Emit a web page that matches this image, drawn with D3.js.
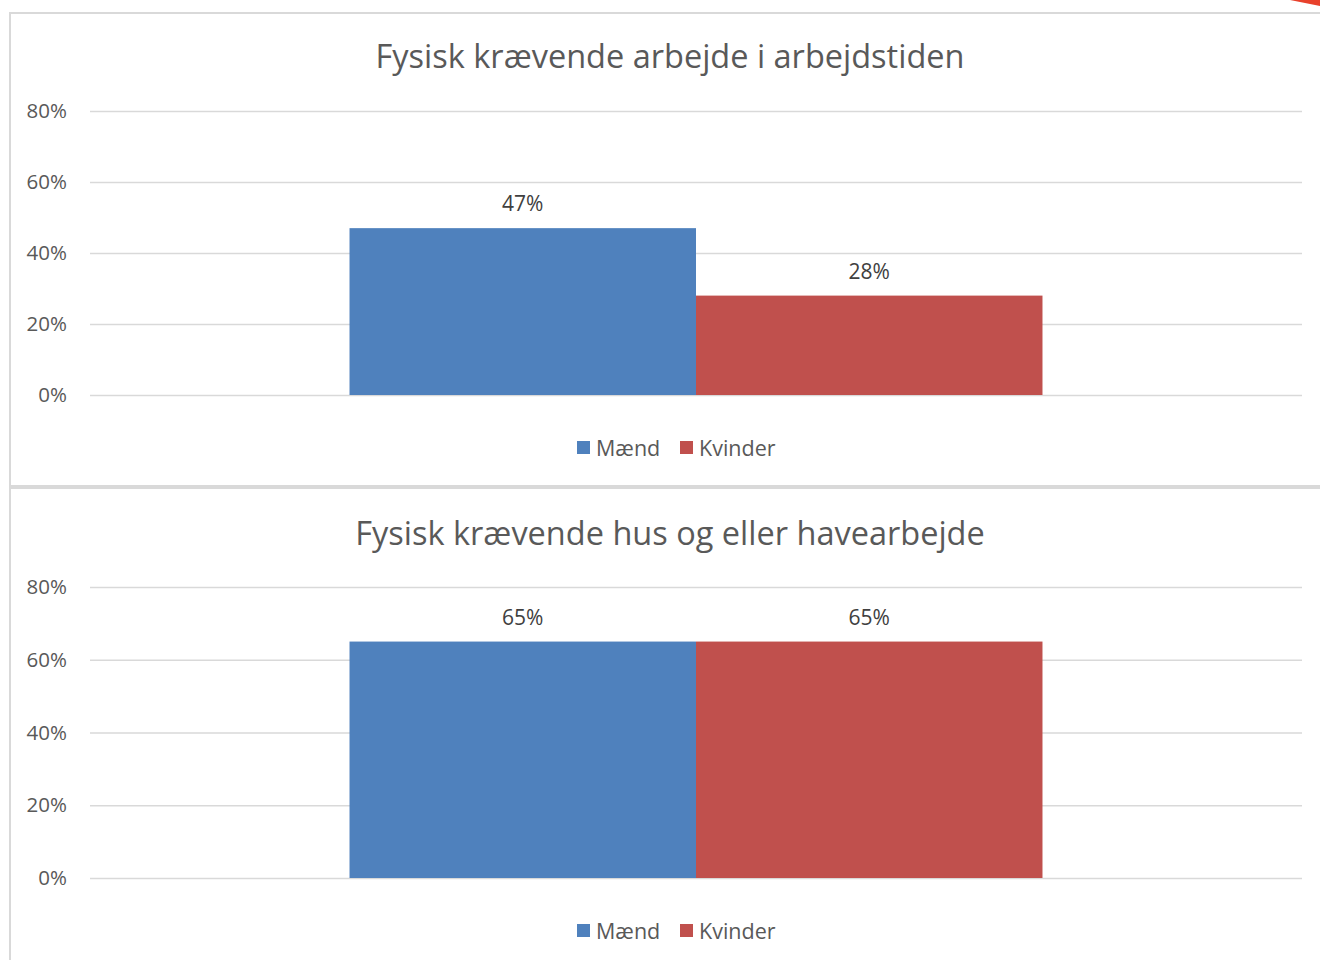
<!DOCTYPE html>
<html>
<head>
<meta charset="utf-8">
<script src="https://cdn.jsdelivr.net/npm/d3@7"></script>
<style>
  html, body { margin: 0; padding: 0; background: #fff; }
  svg { display: block; font-family: "Open Sans", Lato, sans-serif; }
</style>
</head>
<body>
<svg id="chart" width="1320" height="960"></svg>
<script>
// Survey shares: physically demanding work, by sex
const series = ["Mænd", "Kvinder"];
const colors = ["#4F81BD", "#C0504D"];
const titles = ["Fysisk krævende arbejde i arbejdstiden", "Fysisk krævende hus og eller havearbejde"];
const workValues = [0.47, 0.28];
const houseValues = [0.65, 0.65];
const valueSets = [workValues, houseValues];
const yTicks = [0, 0.2, 0.4, 0.6, 0.8];

const svg = d3.select("#chart");

// Small red corner accent at top right
svg.append("path")
  .attr("d", "M1290,0 L1320,0 L1320,6 Z")
  .attr("fill", "#E8412C");

// Panel layouts (pixel frame per chart)
const panels = [
  { top: 12, bottom: 486, titleY: 55, plotTop: 111, plotBottom: 395, legendY: 447 },
  { top: 487, bottom: 963, titleY: 532, plotTop: 587, plotBottom: 878, legendY: 930 }
];
const plotLeft = 90, plotRight = 1302;

panels.forEach((p, i) => {
  const g = svg.append("g");
  const vals = valueSets[i];

  g.append("rect")
    .attr("x", 10).attr("y", p.top + 1)
    .attr("width", 1330).attr("height", p.bottom - p.top - 1)
    .attr("fill", "none")
    .attr("stroke", "#d9d9d9").attr("stroke-width", 2);

  g.append("text")
    .attr("x", 670).attr("y", p.titleY)
    .attr("text-anchor", "middle").attr("dominant-baseline", "central")
    .attr("font-size", 32.5).attr("fill", "#595959")
    .text(titles[i]);

  const y = d3.scaleLinear().domain([0, 0.8]).range([p.plotBottom, p.plotTop]);
  const x0 = d3.scaleBand().domain([""]).range([plotLeft, plotRight])
    .paddingInner(0).paddingOuter(0.3745);
  const x1 = d3.scaleBand().domain(series).range([0, x0.bandwidth()]).padding(0);

  // Gridlines and tick labels
  const axis = d3.axisLeft(y).tickValues(yTicks)
    .tickFormat(d3.format(".0%"))
    .tickSize(-(plotRight - plotLeft)).tickPadding(23);
  const ag = g.append("g").attr("transform", `translate(${plotLeft},0)`).call(axis);
  ag.select(".domain").remove();
  ag.selectAll(".tick line").attr("stroke", "#d9d9d9").attr("stroke-width", 1.3);
  ag.selectAll(".tick text")
    .attr("font-size", 20.5).attr("fill", "#595959")
    .attr("font-family", "\"Open Sans\", Lato, sans-serif");

  // Bars
  const grp = g.append("g").attr("transform", `translate(${x0("")},0)`);
  grp.selectAll("rect").data(vals).join("rect")
    .attr("x", (d, j) => x1(series[j]))
    .attr("width", x1.bandwidth())
    .attr("y", d => y(d))
    .attr("height", d => y(0) - y(d))
    .attr("fill", (d, j) => colors[j]);

  // Value labels
  grp.selectAll("text.val").data(vals).join("text")
    .attr("class", "val")
    .attr("x", (d, j) => x1(series[j]) + x1.bandwidth() / 2)
    .attr("y", d => y(d) - 25)
    .attr("text-anchor", "middle").attr("dominant-baseline", "central")
    .attr("font-size", 21).attr("fill", "#404040")
    .text(d3.format(".0%"));

  // Legend
  const legendX = [577, 680];
  const lg = g.append("g");
  series.forEach((s, j) => {
    lg.append("rect")
      .attr("x", legendX[j]).attr("y", p.legendY - 6)
      .attr("width", 13).attr("height", 13)
      .attr("fill", colors[j]);
    lg.append("text")
      .attr("x", legendX[j] + 19).attr("y", p.legendY)
      .attr("dominant-baseline", "central")
      .attr("font-size", 21.5).attr("fill", "#595959")
      .text(s);
  });
});
</script>
</body>
</html>
